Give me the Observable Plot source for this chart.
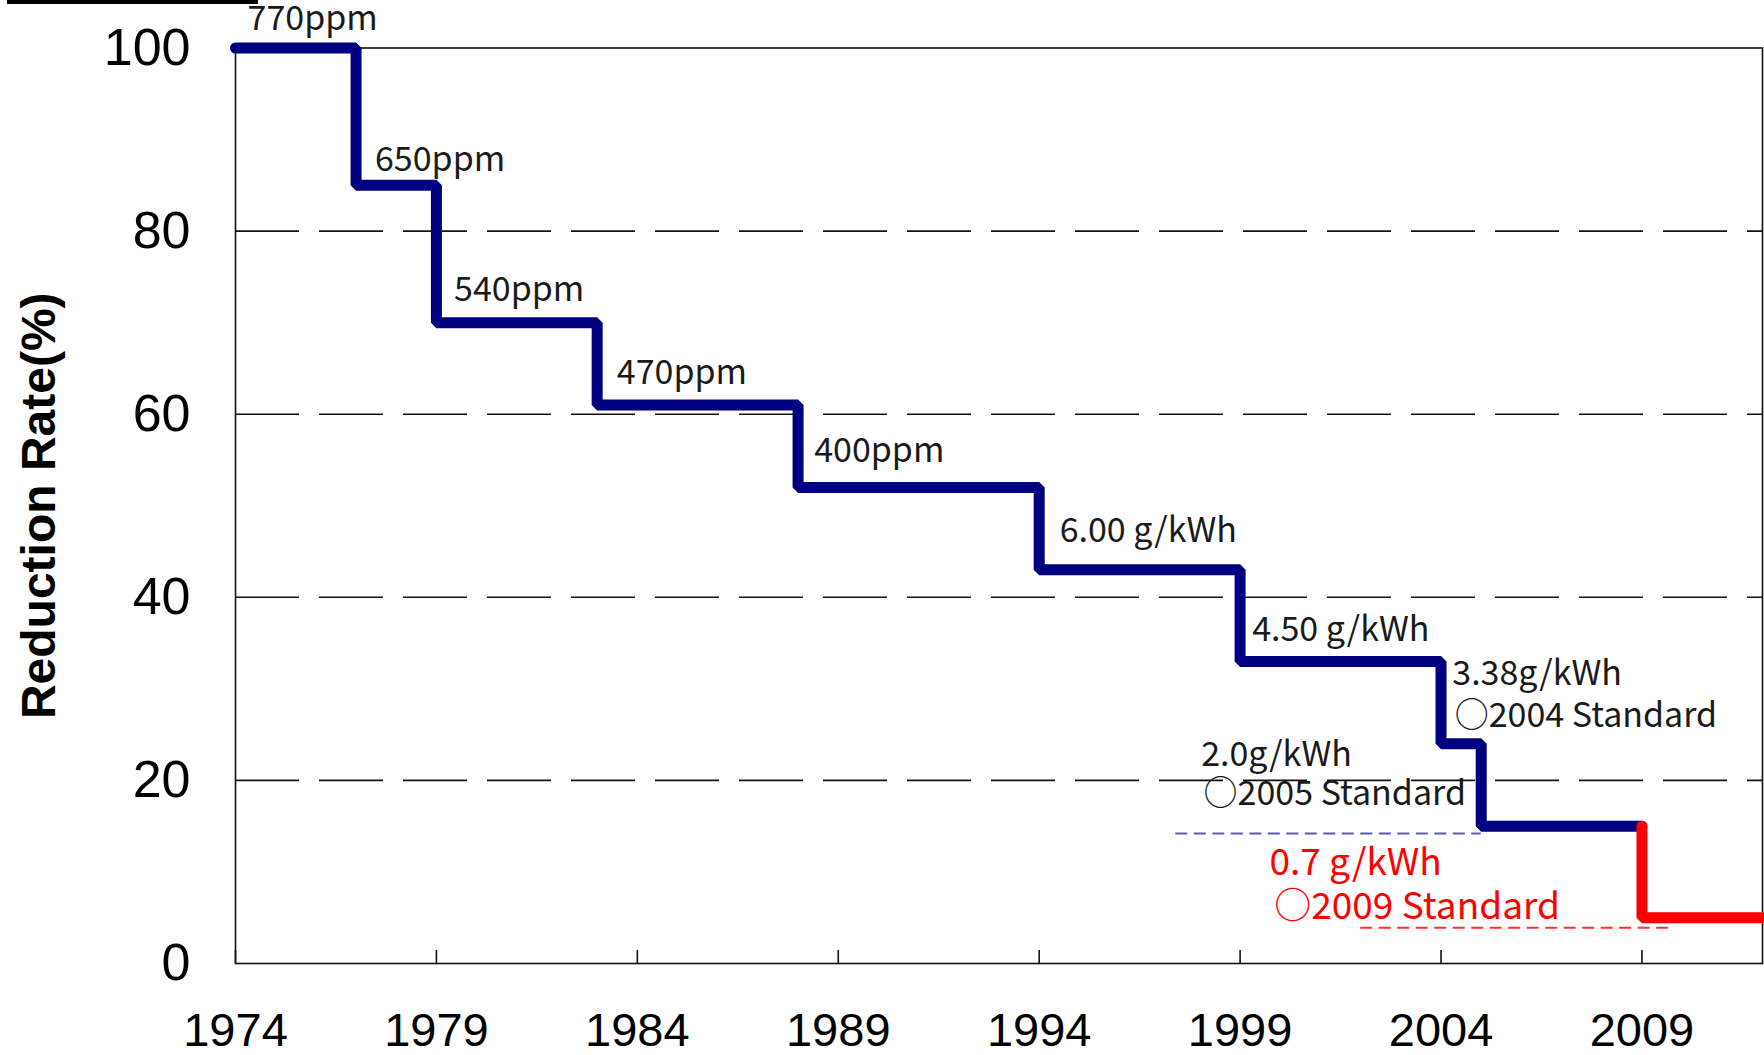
<!DOCTYPE html>
<html>
<head>
<meta charset="utf-8">
<script src="https://cdn.jsdelivr.net/npm/d3@7"></script>
<script src="https://cdn.jsdelivr.net/npm/@observablehq/plot@0.6"></script>
<style>
  html, body { margin: 0; padding: 0; background: #fff; }
  #wrap { position: relative; width: 1764px; height: 1055px; overflow: hidden; }
  #box { position: absolute; left: 7px; top: -14px; width: 243px; height: 10px; border: 4px solid #000; }
  #chart svg { display: block; }
</style>
</head>
<body>
<div id="wrap">
  <div id="chart"></div>
  <div id="box"></div>
</div>
<script>
// ---- data ----
const stepYears = [1974, 1977, 1979, 1983, 1988, 1994, 1999, 2004, 2005, 2009];
const stepRates = [100, 85, 70, 61, 52, 43, 33, 24, 15, 5];
const endYear = 2012;

const xTicks = [1974, 1979, 1984, 1989, 1994, 1999, 2004, 2009];
const yTicks = [0, 20, 40, 60, 80, 100];
const gridRates = [20, 40, 60, 80];

const noteText  = ["770ppm", "650ppm", "540ppm", "470ppm", "400ppm", "6.00 g/kWh", "4.50 g/kWh",
                   "3.38g/kWh", "○2004 Standard", "2.0g/kWh", "○2005 Standard"];
const noteYears = [1974.30, 1977.47, 1979.44, 1983.49, 1988.40, 1994.51, 1999.30,
                   2004.28, 2004.34, 1998.03, 1998.09];
const noteRates = [103.2, 87.8, 73.6, 64.5, 56.0, 47.2, 36.4, 31.6, 27.0, 22.8, 18.5];

const redNoteText  = ["0.7 g/kWh", "○2009 Standard"];
const redNoteYears = [1999.73, 1999.85];
const redNoteRates = [11.0, 6.2];

const guideRates = [14.2, 3.9];
const guideFrom  = [1997.4, 2002.0];
const guideTo    = [2005, 2009.8];

// ---- tables built from the arrays ----
const navyPts = stepYears.slice(0, 9).map((y, i) => ({year: y, rate: stepRates[i]}));
navyPts.push({year: stepYears[9], rate: stepRates[8]});
const redPts = [
  {year: stepYears[9], rate: stepRates[8]},
  {year: endYear, rate: stepRates[9]}
];
const notes = noteText.map((t, i) => ({t, year: noteYears[i], rate: noteRates[i]}));
const redNotes = redNoteText.map((t, i) => ({t, year: redNoteYears[i], rate: redNoteRates[i]}));
const guides = guideRates.map((r, i) => ({rate: r, x1: guideFrom[i], x2: guideTo[i]}));

const noteFont = "'Noto Sans CJK JP', 'Noto Sans', sans-serif";

const chart = Plot.plot({
  width: 1764,
  height: 1055,
  marginLeft: 235,
  marginRight: 2,
  marginTop: 47.5,
  marginBottom: 92,
  style: {fontFamily: "'Liberation Sans', Arial, sans-serif", background: "#fff", color: "#000"},
  x: {domain: [1974, endYear]},
  y: {domain: [0, 100]},
  marks: [
    Plot.ruleY(gridRates, {stroke: "#111", strokeWidth: 1.6, strokeDasharray: "64,20"}),
    Plot.frame({stroke: "#111", strokeWidth: 1.6}),
    Plot.axisX({ticks: xTicks, tickFormat: "d", tickSize: -13, tickPadding: 62, fontSize: 47,
                label: null, stroke: "#111", strokeWidth: 1.6, fill: "#000"}),
    Plot.axisY({ticks: yTicks, tickSize: 0, tickPadding: 45, fontSize: 52, label: null, fill: "#000"}),
    Plot.text(["Reduction Rate(%)"], {frameAnchor: "left", textAnchor: "middle", dx: -196, rotate: -90,
                fontSize: 48, fontWeight: "bold", fill: "#000"}),
    Plot.ruleY(guides.slice(0, 1), {y: "rate", x1: "x1", x2: "x2", stroke: "#5a5aae",
                strokeWidth: 2, strokeDasharray: "12,6.5"}),
    Plot.ruleY(guides.slice(1), {y: "rate", x1: "x1", x2: "x2", stroke: "#ff3030",
                strokeWidth: 2, strokeDasharray: "12,6.5"}),
    Plot.line(navyPts, {x: "year", y: "rate", curve: "step-after", stroke: "#000080",
                strokeWidth: 11, strokeLinejoin: "miter", strokeLinecap: "round"}),
    Plot.line(redPts, {x: "year", y: "rate", curve: "step-before", stroke: "#ff0000",
                strokeWidth: 11, strokeLinejoin: "miter", strokeLinecap: "round"}),
    Plot.text(notes, {x: "year", y: "rate", text: "t", textAnchor: "start",
                fontFamily: noteFont, fontSize: 34, fill: "#1a1a1a"}),
    Plot.text(redNotes, {x: "year", y: "rate", text: "t", textAnchor: "start",
                fontFamily: noteFont, fontSize: 37, fill: "#ff0000"})
  ]
});
document.getElementById("chart").appendChild(chart);
</script>
</body>
</html>
